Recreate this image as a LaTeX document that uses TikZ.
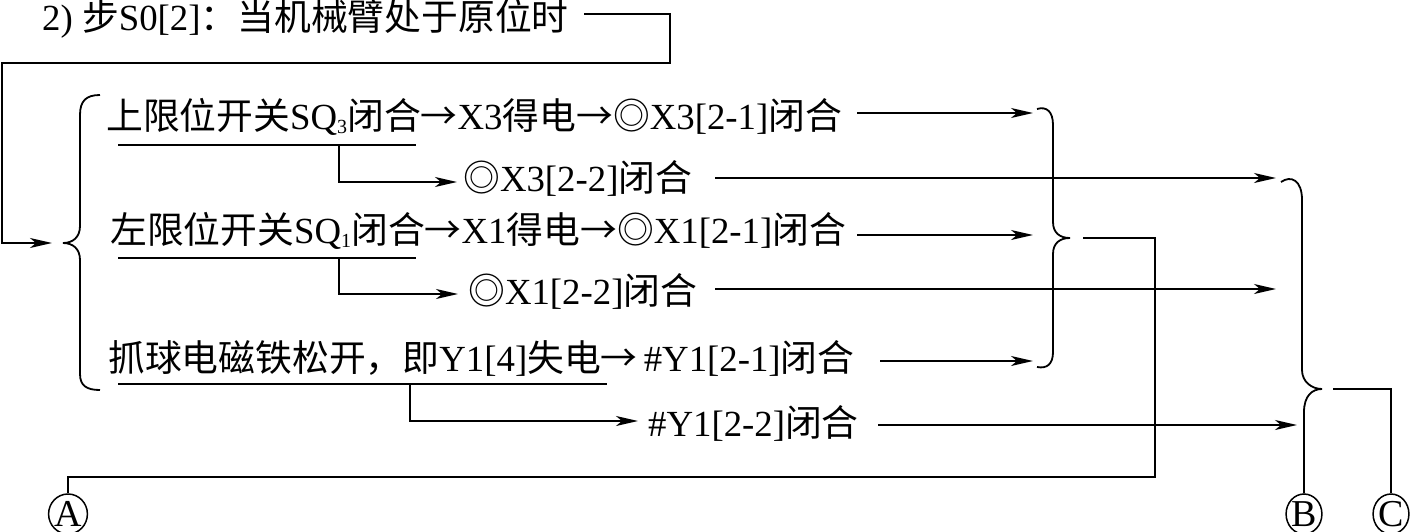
\documentclass[tikz,border=0pt]{standalone}
\usepackage{fontspec}
\setmainfont{Liberation Serif}
\newfontfamily\cjk{Noto Sans CJK SC}
\usetikzlibrary{arrows.meta,shapes.geometric}
\newcommand{\zh}[1]{{\cjk #1}}
\newcommand{\rarr}{{\cjk →}}
\newcommand{\lowsub}[1]{\raisebox{-0.12em}{\fontsize{20}{20}\selectfont #1}}
\begin{document}
\begin{tikzpicture}[x=1pt,y=-1pt,
  txt/.style={anchor=base west,inner sep=0pt,font=\fontsize{36.8}{40}\selectfont},
  ln/.style={line width=1.8pt},
  arr/.style={ln,-{Stealth[length=22pt,width=10pt,inset=6pt]}},
  brc/.style={line width=1.8pt},
  lab/.style={ellipse,draw,line width=1.5pt,minimum width=34pt,minimum height=40pt,inner sep=0pt,font=\fontsize{38}{38}\selectfont}]
\useasboundingbox (0,0) rectangle (1410,532);

% texts
\node[txt] (title) at (42,31) {2) \zh{步}S0[2]\zh{：当机械臂处于原位时}};
\node[txt] (r1) at (106,129) {\zh{上限位开关}SQ\lowsub{3}\zh{闭合}\rarr X3\zh{得电}\rarr\zh{◎}X3[2-1]\zh{闭合}};
\node[txt] (r1b) at (463,191) {\zh{◎}X3[2-2]\zh{闭合}};
\node[txt] (r2) at (110,243) {\zh{左限位开关}SQ\lowsub{1}\zh{闭合}\rarr X1\zh{得电}\rarr\zh{◎}X1[2-1]\zh{闭合}};
\node[txt] (r2b) at (468,304) {\zh{◎}X1[2-2]\zh{闭合}};
\node[txt] (r3) at (108,371) {\zh{抓球电磁铁松开，即}Y1[4]\zh{失电}\rarr\,\#Y1[2-1]\zh{闭合}};
\node[txt] (r3b) at (648,436) {\#Y1[2-2]\zh{闭合}};

\node[lab] (A) at (68,514) {A};
\node[lab] (B) at (1304,514) {B};
\node[lab] (C) at (1391,514) {C};

% coordinates
\coordinate (t0) at (584,14);
\coordinate (t1) at (670,14);
\coordinate (t2) at (670,63);
\coordinate (t3) at (2,63);
\coordinate (t4) at (2,243);
\coordinate (lb) at (52,243);

\coordinate (u1a) at (118,145); \coordinate (u1b) at (416,145);
\coordinate (u1c) at (339,145); \coordinate (u1d) at (339,182); \coordinate (u1e) at (457,182);
\coordinate (u2a) at (118,258); \coordinate (u2b) at (416,258);
\coordinate (u2c) at (339,258); \coordinate (u2d) at (339,294); \coordinate (u2e) at (458,294);
\coordinate (u3a) at (118,384); \coordinate (u3b) at (607,384);
\coordinate (u3c) at (410,384); \coordinate (u3d) at (410,421); \coordinate (u3e) at (638,421);

\coordinate (a1s) at (857,113); \coordinate (a1e) at (1033,113);
\coordinate (a2s) at (715,178); \coordinate (a2e) at (1276,178);
\coordinate (a3s) at (857,235); \coordinate (a3e) at (1033,235);
\coordinate (a4s) at (715,289); \coordinate (a4e) at (1276,289);
\coordinate (a5s) at (880,361); \coordinate (a5e) at (1033,361);
\coordinate (a6s) at (878,425); \coordinate (a6e) at (1297,425);

\coordinate (k0) at (1083,238); \coordinate (k1) at (1155,238);
\coordinate (k2) at (1155,477); \coordinate (k3) at (68,477);
\coordinate (c0) at (1333,389); \coordinate (c1) at (1391,389);

% title connector
\draw[arr] (t0) -- (t1) -- (t2) -- (t3) -- (t4) -- (lb);

% left brace
\draw[brc] (100,95) .. controls (86,95) and (80,101) .. (80,115) -- (80,226)
  .. controls (80,237) and (73,243) .. (63,243)
  .. controls (73,243) and (80,249) .. (80,260) -- (80,374)
  .. controls (80,386) and (87,390) .. (100,390);

% underlines and branches
\draw[ln] (u1a) -- (u1b);
\draw[arr] (u1c) -- (u1d) -- (u1e);
\draw[ln] (u2a) -- (u2b);
\draw[arr] (u2c) -- (u2d) -- (u2e);
\draw[ln] (u3a) -- (u3b);
\draw[arr] (u3c) -- (u3d) -- (u3e);

% right arrows
\draw[arr] (a1s) -- (a1e);
\draw[arr] (a2s) -- (a2e);
\draw[arr] (a3s) -- (a3e);
\draw[arr] (a4s) -- (a4e);
\draw[arr] (a5s) -- (a5e);
\draw[arr] (a6s) -- (a6e);

% right brace 1
\draw[brc] (1037,109) .. controls (1047,106) and (1053,112) .. (1053,125) -- (1053,222)
  .. controls (1053,233) and (1060,238) .. (1070,238)
  .. controls (1060,238) and (1053,243) .. (1053,254) -- (1053,352)
  .. controls (1053,364) and (1047,369) .. (1037,367);
\draw[ln] (k0) -- (k1) -- (k2) -- (k3) -- (A.north);

% right brace 2
\draw[brc] (1281,182) .. controls (1291,175) and (1302,180) .. (1302,200) -- (1302,370)
  .. controls (1302,382) and (1312,389) .. (1322,389)
  .. controls (1312,389) and (1304,396) .. (1304,412) -- (B.north);
\draw[ln] (c0) -- (c1) -- (C.north);
\end{tikzpicture}
\end{document}
